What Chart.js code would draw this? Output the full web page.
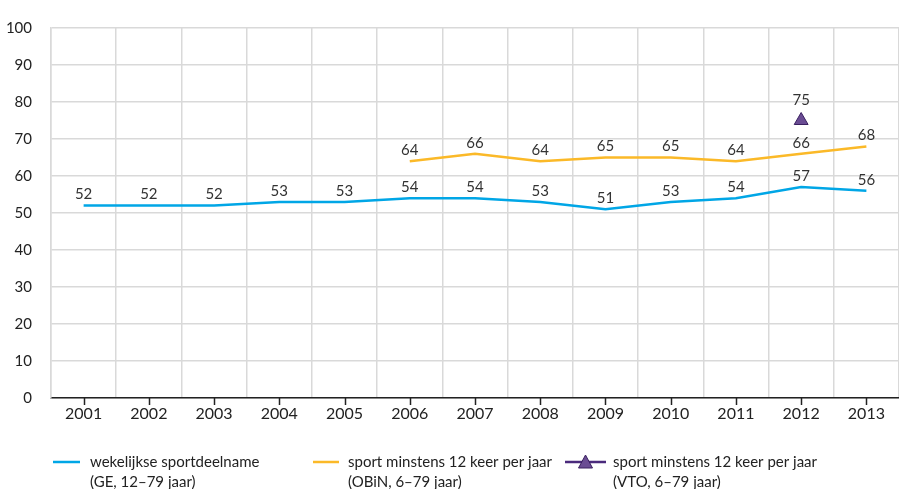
<!DOCTYPE html>
<html>
<head>
<meta charset="utf-8">
<script src="https://cdn.jsdelivr.net/npm/chart.js@4"></script>
<style>
  html, body { margin: 0; padding: 0; background: #fff; }
  #wrap { width: 899px; height: 489px; }
</style>
</head>
<body>
<div id="wrap"><canvas id="sport"></canvas></div>
<script>
const years = ["2001", "2002", "2003", "2004", "2005", "2006", "2007", "2008", "2009", "2010", "2011", "2012", "2013"];
const weekly = [52, 52, 52, 53, 53, 54, 54, 53, 51, 53, 54, 57, 56];
const obin = [null, null, null, null, null, 64, 66, 64, 65, 65, 64, 66, 68];
const vto = [null, null, null, null, null, null, null, null, null, null, null, 75, null];
const seriesNames = [
  ["wekelijkse sportdeelname", "(GE, 12–79 jaar)"],
  ["sport minstens 12 keer per jaar", "(OBiN, 6–79 jaar)"],
  ["sport minstens 12 keer per jaar", "(VTO, 6–79 jaar)"],
];

const FONT = "Lato, 'Open Sans', sans-serif";
const colors = ["#00a6e6", "#fbb928", "#4a2a7c"];

// value labels above every point
const valueLabels = {
  id: "valueLabels",
  afterDatasetsDraw(chart) {
    const ctx = chart.ctx;
    ctx.save();
    ctx.font = "15px " + FONT;
    ctx.fillStyle = "#333";
    ctx.textAlign = "center";
    ctx.textBaseline = "middle";
    chart.data.datasets.forEach((ds, i) => {
      const meta = chart.getDatasetMeta(i);
      meta.data.forEach((pt, j) => {
        const v = ds.data[j];
        if (v == null) return;
        const off = i === 2 ? 20 : 11;
        ctx.fillText(String(v), pt.x, pt.y - off);
      });
    });
    ctx.restore();
  },
};

// small tick marks under the x axis at each year
const xTicks = {
  id: "xTicks",
  afterDraw(chart) {
    const s = chart.scales.x;
    const ctx = chart.ctx;
    ctx.save();
    ctx.strokeStyle = "#222";
    ctx.lineWidth = 1.5;
    s.ticks.forEach((t, i) => {
      const x = Math.round(s.getPixelForTick(i)) + 0.5;
      ctx.beginPath();
      ctx.moveTo(x, s.top);
      ctx.lineTo(x, s.top + 7);
      ctx.stroke();
    });
    ctx.restore();
  },
};

// legend drawn under the chart with two-line labels
const bottomLegend = {
  id: "bottomLegend",
  afterDraw(chart) {
    const ctx = chart.ctx;
    const items = [
      { x0: 53, x1: 80, tx: 90 },
      { x0: 313, x1: 339, tx: 348 },
      { x0: 565, x1: 606, tx: 613 },
    ];
    const y = 462;
    ctx.save();
    items.forEach((it, i) => {
      ctx.strokeStyle = colors[i];
      ctx.lineWidth = 2.5;
      ctx.beginPath();
      ctx.moveTo(it.x0, y);
      ctx.lineTo(it.x1, y);
      ctx.stroke();
      if (i === 2) {
        const cx = (it.x0 + it.x1) / 2;
        ctx.fillStyle = "#6a4c93";
        ctx.strokeStyle = "#3a2060";
        ctx.lineWidth = 1;
        ctx.beginPath();
        ctx.moveTo(cx, y - 7);
        ctx.lineTo(cx + 7, y + 6);
        ctx.lineTo(cx - 7, y + 6);
        ctx.closePath();
        ctx.fill();
        ctx.stroke();
      }
      ctx.fillStyle = "#222";
      ctx.font = "15px " + FONT;
      ctx.textAlign = "left";
      ctx.textBaseline = "middle";
      ctx.fillText(seriesNames[i][0], it.tx, y);
      ctx.fillText(seriesNames[i][1], it.tx, y + 20);
    });
    ctx.restore();
  },
};

new Chart(document.getElementById("sport"), {
  type: "line",
  data: {
    labels: years,
    datasets: [
      {
        label: seriesNames[0].join(" "),
        data: weekly,
        borderColor: colors[0],
        borderWidth: 2.5,
        pointRadius: 0,
        tension: 0,
      },
      {
        label: seriesNames[1].join(" "),
        data: obin,
        borderColor: colors[1],
        borderWidth: 2.5,
        pointRadius: 0,
        tension: 0,
      },
      {
        label: seriesNames[2].join(" "),
        data: vto,
        borderColor: "#3a2060",
        backgroundColor: "#6a4c93",
        borderWidth: 1,
        showLine: false,
        pointStyle: "triangle",
        pointRadius: 8,
      },
    ],
  },
  options: {
    responsive: true,
    maintainAspectRatio: false,
    animation: false,
    layout: { autoPadding: false, padding: { top: 22, right: 0, bottom: 55, left: 0 } },
    plugins: {
      legend: { display: false },
      tooltip: { enabled: false },
    },
    scales: {
      x: {
        offset: true,
        grid: { offset: true, color: "#d9d9d9", lineWidth: 1.5, drawTicks: false },
        border: { color: "#222", width: 1.5 },
        ticks: { color: "#222", padding: 6, font: { family: FONT, size: 16 } },
        afterFit: (s) => { s.height = 36; },
      },
      y: {
        min: 0,
        max: 100,
        ticks: { stepSize: 10, color: "#222", padding: 19, font: { family: FONT, size: 15 } },
        grid: { color: "#d9d9d9", lineWidth: 1.5, drawTicks: false },
        border: { color: "#d9d9d9", width: 1.5 },
        afterFit: (s) => { s.width = 51; },
      },
    },
  },
  plugins: [valueLabels, xTicks, bottomLegend],
});
</script>
</body>
</html>
